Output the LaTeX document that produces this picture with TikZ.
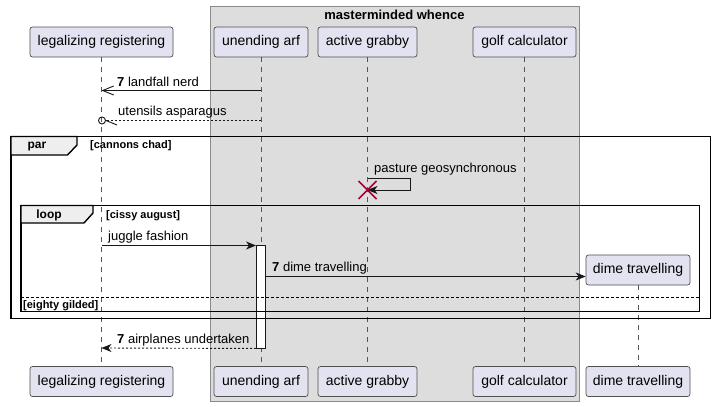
\documentclass[tikz,border=0pt]{standalone}
\usepackage{fontspec}
\setmainfont{Liberation Sans}
\usetikzlibrary{arrows.meta}
\definecolor{pfill}{HTML}{E2E2F0}
\definecolor{pborder}{HTML}{505050}
\definecolor{boxfill}{HTML}{DDDDDD}
\definecolor{boxborder}{HTML}{8A8A8A}
\definecolor{lifec}{HTML}{555555}
\definecolor{msgc}{HTML}{181818}
\definecolor{tabfill}{HTML}{EEEEEE}
\definecolor{destroyc}{HTML}{A80036}
\begin{document}
\begin{tikzpicture}[x=1pt,y=-1pt,
  part/.style={draw=pborder,fill=pfill,line width=0.7pt,rounded corners=2.5pt,minimum height=30pt,inner sep=0pt,font=\fontsize{14}{16}\selectfont},
  lifeline/.style={draw=lifec,line width=0.6pt,dash pattern=on 5pt off 5pt},
  msg/.style={draw=msgc,line width=0.9pt},
  ret/.style={draw=msgc,line width=0.9pt,dash pattern=on 2pt off 2pt},
  fillhead/.style={-{Stealth[length=10pt,width=8pt,inset=3pt]}},
  openhead/.style={-{Straight Barb[length=11pt,width=9pt]}},
  lbl/.style={anchor=west,inner sep=0pt,font=\fontsize{13}{15}\selectfont},
  glbl/.style={anchor=west,inner sep=0pt,font=\fontsize{11}{13}\selectfont\bfseries},
  frame/.style={draw=black,line width=1.8pt},
  tab/.style={draw=black,line width=1.4pt,fill=tabfill},
  tabtxt/.style={inner sep=0pt,font=\fontsize{12}{14}\selectfont\bfseries}
]
\useasboundingbox (0,0) rectangle (715,407);
\fill[white] (0,0) rectangle (715,407);
% box
\draw[fill=boxfill,draw=boxborder,line width=0.8pt] (210.5,6.5) rectangle (579.5,401.5);
\node[inner sep=0pt,font=\fontsize{13}{15}\selectfont\bfseries] (boxtitle) at (394.5,15) {masterminded whence};
% participants top
\node[part,minimum width=143pt] (legT) at (101.5,42) {legalizing registering};
\node[part,minimum width=94pt] (unT) at (261,42) {unending arf};
\node[part,minimum width=99pt] (acT) at (367.5,42) {active grabby};
\node[part,minimum width=103pt] (goT) at (524.5,42) {golf calculator};
% participants bottom
\node[part,minimum width=143pt] (legB) at (101.5,381.5) {legalizing registering};
\node[part,minimum width=94pt] (unB) at (261,381.5) {unending arf};
\node[part,minimum width=99pt] (acB) at (367.5,381.5) {active grabby};
\node[part,minimum width=103pt] (goB) at (524.5,381.5) {golf calculator};
\node[part,minimum width=104pt] (diB) at (638,381.5) {dime travelling};
% created participant
\node[part,minimum width=104pt] (diC) at (638,270) {dime travelling};
% lifelines
\draw[lifeline] (legT.south) -- (legB.north);
\draw[lifeline] (unT.south) -- (unB.north);
\draw[lifeline] (acT.south) -- (acB.north);
\draw[lifeline] (goT.south) -- (goB.north);
\draw[lifeline] (diC.south) -- (diB.north);
% message 1
\coordinate (m1a) at (261,90.5);
\coordinate (m1b) at (101.5,90.5);
\draw[msg,openhead] (m1a) -- (m1b);
\node[lbl] (t1) at (117,81.5) {\textbf{7} landfall nerd};
% message 2
\coordinate (m2a) at (261,120.5);
\coordinate (m2b) at (105.5,120.5);
\coordinate (m2c) at (102,120.5);
\draw[ret] (m2a) -- (m2b);
\node[draw=msgc,line width=0.9pt,circle,minimum size=7pt,inner sep=0pt] (m2o) at (m2c) {};
\coordinate (m2d) at (117,125);
\draw[msg] (m2o.east) -- (m2d);
\node[lbl] (t2) at (118,112.5) {utensils asparagus};
% self message + destroy
\coordinate (s1) at (367.5,178);
\coordinate (s2) at (410,178);
\coordinate (s3) at (410,190);
\coordinate (s4) at (367.5,190);
\draw[msg,fillhead] (s1) -- (s2) -- (s3) -- (s4);
\node[lbl] (t3) at (374,169.5) {pasture geosynchronous};
\draw[destroyc,line width=1.5pt] (358.5,181) -- (376.5,199) (358.5,199) -- (376.5,181);
% activation
\node[draw=msgc,fill=white,line width=0.9pt,minimum width=9pt,minimum height=103pt,inner sep=0pt] (act) at (261,296.5) {};
% juggle fashion
\coordinate (j1) at (101.5,245.5);
\draw[msg,fillhead] (j1) -- (j1 -| act.west);
\node[lbl] (t4) at (108,237.5) {juggle fashion};
% dime travelling
\coordinate (d1) at (act.east |- 0,276.5);
\draw[msg,fillhead] (d1) -- (d1 -| diC.west);
\node[lbl] (t5) at (272,268.5) {\textbf{7} dime travelling};
% airplanes
\coordinate (a1) at (act.south west);
\coordinate (a2) at (101.5,348);
\draw[ret,fillhead] (a1) -- (a2);
\node[lbl] (t6) at (117,340.5) {\textbf{7} airplanes undertaken};
% par frame
\draw[frame] (11,136.5) rectangle (710.5,318.5);
\draw[tab] (11,136.5) -- (77,136.5) -- (77,145) -- (67.5,155) -- (11,155) -- cycle;
\node[tabtxt] (partxt) at (37,146.5) {par};
\node[glbl] (g1) at (90,145.5) {[cannons chad]};
% loop frame
\draw[frame] (21,205.5) rectangle (699.5,311.5);
\draw[tab] (21,205.5) -- (93,205.5) -- (93,213) -- (84,223) -- (21,223) -- cycle;
\node[tabtxt] (looptxt) at (49,215) {loop};
\node[glbl] (g2) at (106,215.5) {[cissy august]};
\draw[black,line width=0.8pt,dash pattern=on 3pt off 2pt] (21,297) -- (699.5,297);
\node[glbl] (g3) at (23,305.5) {[eighty gilded]};
\end{tikzpicture}
\end{document}
